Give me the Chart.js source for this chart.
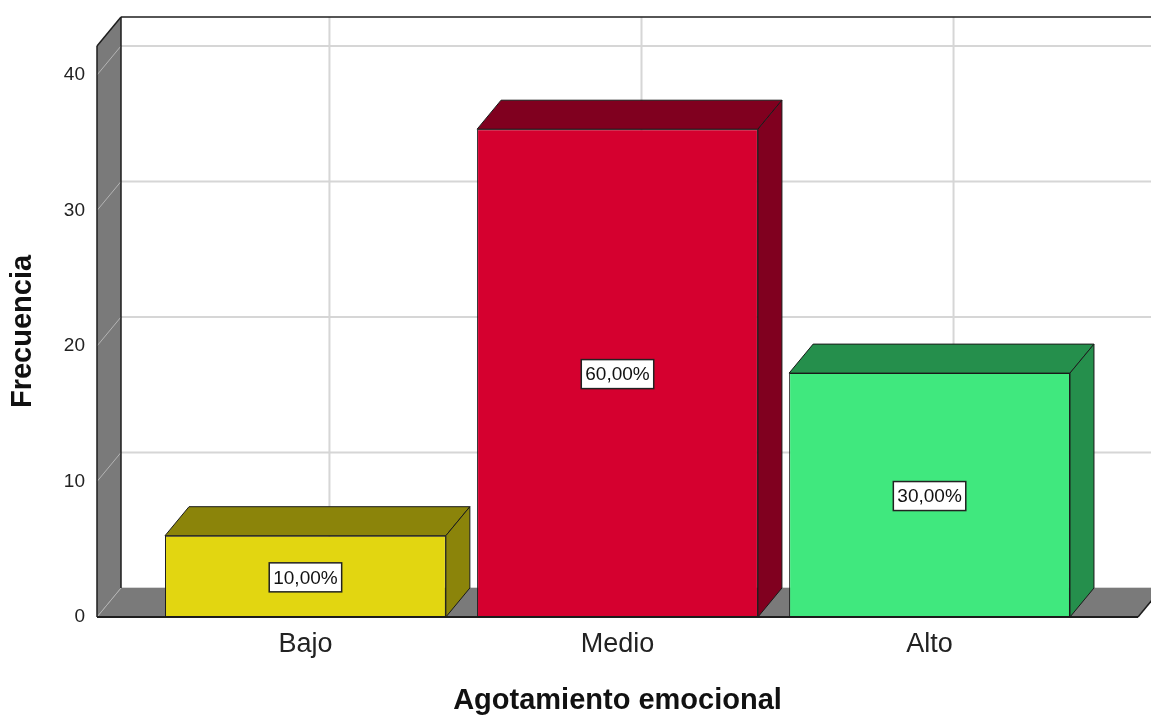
<!DOCTYPE html>
<html>
<head>
<meta charset="utf-8">
<script src="https://cdn.jsdelivr.net/npm/chart.js@4.4.1/dist/chart.umd.min.js"></script>
<style>
  html, body { margin: 0; padding: 0; background: #fff; }
</style>
</head>
<body>
<canvas id="chart" width="1151" height="718"></canvas>
<script>
const categories = ['Bajo', 'Medio', 'Alto'];
const frequencies = [6, 36, 18];
const percentLabels = ['10,00%', '60,00%', '30,00%'];
const yTicks = [0, 10, 20, 30, 40];

const frontColors = ['#e2d611', '#d5002f', '#40e87e'];
const darkColors = ['#8b840a', '#80001f', '#258f4c'];

// depth offset of the 3D box
const DX = 24;
const DY = -29;
const FONT = "'Liberation Sans', Arial, sans-serif";

function poly(ctx, pts, fill, stroke) {
  ctx.beginPath();
  ctx.moveTo(pts[0][0], pts[0][1]);
  for (let i = 1; i < pts.length; i++) ctx.lineTo(pts[i][0], pts[i][1]);
  ctx.closePath();
  if (fill) { ctx.fillStyle = fill; ctx.fill(); }
  if (stroke) { ctx.strokeStyle = stroke; ctx.lineWidth = 1; ctx.stroke(); }
}

function line(ctx, x1, y1, x2, y2, color, w) {
  ctx.beginPath();
  ctx.moveTo(x1, y1);
  ctx.lineTo(x2, y2);
  ctx.strokeStyle = color;
  ctx.lineWidth = w;
  ctx.stroke();
}

const walls = {
  id: 'walls',
  beforeDatasetsDraw(chart) {
    const { ctx, chartArea: a, scales } = chart;
    ctx.save();
    // back wall grid
    yTicks.forEach(v => {
      const y = scales.y.getPixelForValue(v) + DY;
      line(ctx, a.left + DX, y, a.right + DX, y, '#d6d6d6', 2);
    });
    categories.forEach((c, i) => {
      const x = scales.x.getPixelForValue(i) + DX;
      line(ctx, x, a.top + DY, x, a.bottom + DY, '#d6d6d6', 2);
    });
    // floor
    poly(ctx, [[a.left, a.bottom], [a.right, a.bottom], [a.right + DX, a.bottom + DY], [a.left + DX, a.bottom + DY]], '#7a7a7a');
    // left wall
    poly(ctx, [[a.left, a.bottom], [a.left, a.top], [a.left + DX, a.top + DY], [a.left + DX, a.bottom + DY]], '#7a7a7a');
    yTicks.forEach(v => {
      const y = scales.y.getPixelForValue(v);
      line(ctx, a.left, y, a.left + DX, y + DY, '#b4b4b4', 1);
    });
    // outlines
    ctx.lineJoin = 'round';
    line(ctx, a.left + DX, a.top + DY, a.right + DX + 40, a.top + DY, '#1e1e1e', 1.5);
    line(ctx, a.left + DX, a.top + DY, a.left + DX, a.bottom + DY, '#1e1e1e', 1.5);
    line(ctx, a.left, a.top, a.left + DX, a.top + DY, '#1e1e1e', 1.5);
    line(ctx, a.left, a.top, a.left, a.bottom, '#1e1e1e', 1.5);
    line(ctx, a.left, a.bottom, a.right, a.bottom, '#1e1e1e', 2);
    line(ctx, a.right, a.bottom, a.right + DX, a.bottom + DY, '#1e1e1e', 1.5);
    ctx.restore();
  },
  afterDatasetsDraw(chart) {
    const { ctx } = chart;
    const meta = chart.getDatasetMeta(0);
    ctx.save();
    meta.data.forEach((bar, i) => {
      const { x, y, base, width } = bar.getProps(['x', 'y', 'base', 'width'], true);
      const l = x - width / 2, r = x + width / 2;
      // top face
      poly(ctx, [[l, y], [r, y], [r + DX, y + DY], [l + DX, y + DY]], darkColors[i], '#1a1a1a');
      // side face
      poly(ctx, [[r, y], [r + DX, y + DY], [r + DX, base + DY], [r, base]], darkColors[i], '#1a1a1a');
      // percentage label
      ctx.font = '19px ' + FONT;
      const tw = ctx.measureText(percentLabels[i]).width;
      const bw = tw + 8, bh = 29;
      const cy = (y + base) / 2 + 1;
      ctx.fillStyle = '#fff';
      ctx.fillRect(x - bw / 2, cy - bh / 2, bw, bh);
      ctx.strokeStyle = '#222';
      ctx.lineWidth = 1.5;
      ctx.strokeRect(x - bw / 2, cy - bh / 2, bw, bh);
      ctx.fillStyle = '#111';
      ctx.textAlign = 'center';
      ctx.textBaseline = 'middle';
      ctx.fillText(percentLabels[i], x, cy + 1);
    });
    ctx.restore();
  }
};

new Chart(document.getElementById('chart'), {
  type: 'bar',
  data: {
    datasets: [{
      data: frequencies.map((v, i) => ({ x: i, y: v })),
      backgroundColor: frontColors,
      borderColor: '#1a1a1a',
      borderWidth: 1,
      borderSkipped: false,
      barPercentage: 0.9,
      categoryPercentage: 1.0,
    }],
  },
  options: {
    responsive: false,
    animation: false,
    layout: { padding: { top: 46, right: 13, left: 0, bottom: 0 } },
    plugins: {
      legend: { display: false },
      tooltip: { enabled: false },
    },
    scales: {
      x: {
        type: 'linear',
        offset: false,
        min: -0.668,
        max: 2.668,
        afterBuildTicks: s => { s.ticks = categories.map((c, i) => ({ value: i })); },
        afterFit: s => { s.height = 101; },
        grid: { display: false, drawTicks: false, offset: false },
        border: { display: false },
        ticks: {
          callback: v => categories[v],
          font: { size: 27, family: FONT },
          color: '#222',
          padding: 11,
          autoSkip: false,
          maxRotation: 0,
        },
        title: {
          display: true,
          text: 'Agotamiento emocional',
          font: { size: 29, weight: 'bold', family: FONT },
          color: '#111',
          padding: { top: 0, bottom: 0 },
        },
      },
      y: {
        min: 0,
        max: 42.14,
        afterBuildTicks: s => { s.ticks = yTicks.map(v => ({ value: v })); },
        afterFit: s => { s.width = 97; },
        grid: { display: false, drawTicks: false },
        border: { display: false },
        ticks: {
          font: { size: 19, family: FONT },
          color: '#222',
          padding: 12,
        },
        title: {
          display: true,
          text: 'Frecuencia',
          font: { size: 29, weight: 'bold', family: FONT },
          color: '#111',
          padding: { top: 6, bottom: 0 },
        },
      },
    },
  },
  plugins: [walls],
});
</script>
</body>
</html>
